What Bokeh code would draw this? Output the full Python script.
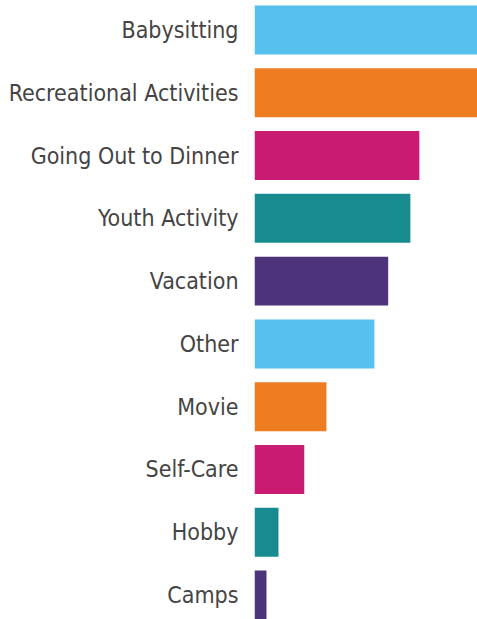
from bokeh.plotting import figure
from bokeh.models import Range1d, FixedTicker
from bokeh.embed import file_html
from bokeh.resources import INLINE

categories = ["Babysitting", "Recreational Activities", "Going Out to Dinner",
              "Youth Activity", "Vacation", "Other", "Movie", "Self-Care",
              "Hobby", "Camps"]
values = [37.2, 37.2, 27.5, 26.0, 22.3, 20.0, 12.0, 8.3, 4.0, 2.0]
colors = ["#56C1EF", "#EE7D22", "#C91B72", "#178B8F", "#4D337A",
          "#56C1EF", "#EE7D22", "#C91B72", "#178B8F", "#4D337A"]

ys = list(range(len(categories)))

p = figure(width=477, height=619, output_backend="svg", toolbar_location=None,
           x_range=Range1d(0, 37.2), y_range=Range1d(9.39, -0.47),
           min_border_left=254, min_border_right=0, min_border_top=0,
           min_border_bottom=0, outline_line_color=None)

p.hbar(y=ys, right=values, left=0, height=0.78, color=colors, line_color=None)

p.xaxis.visible = False
p.grid.visible = False
ax = p.yaxis[0]
ax.ticker = FixedTicker(ticks=ys)
ax.major_label_overrides = {i: c for i, c in zip(ys, categories)}
ax.axis_line_color = None
ax.major_tick_line_color = None
ax.minor_tick_line_color = None
ax.major_label_text_font = "'DejaVu Sans Condensed', sans-serif"
ax.major_label_text_font_size = "23px"
ax.major_label_text_color = "#444444"
ax.major_label_standoff = 10

open("out.html", "w").write(file_html(p, INLINE))
